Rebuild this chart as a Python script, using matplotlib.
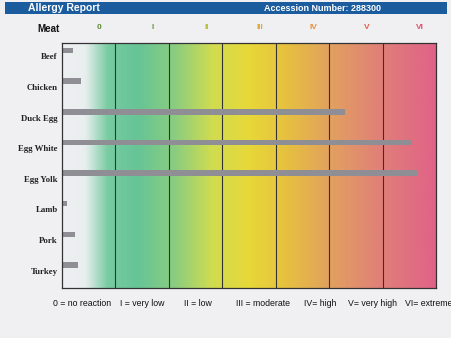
import numpy as np
import matplotlib.pyplot as plt
from matplotlib.colors import LinearSegmentedColormap
from matplotlib.patches import Rectangle

foods = ["Beef", "Chicken", "Duck Egg", "Egg White", "Egg Yolk", "Lamb", "Pork", "Turkey"]
scores = [0.2, 0.35, 5.3, 6.55, 6.65, 0.1, 0.25, 0.3]
classes = ["0", "I", "II", "III", "IV", "V", "VI"]
class_colors = ["#5c8a3a", "#6a9a40", "#b8c040", "#e0a830", "#e89040", "#e06048", "#e05070"]
legend_items = ["0 = no reaction", "I = very low", "II = low", "III = moderate",
                "IV= high", "V= very high", "VI= extreme"]
legend_x = [0.117, 0.265, 0.408, 0.522, 0.672, 0.77, 0.895]

fig = plt.figure(figsize=(4.52, 3.38), dpi=100)
fig.patch.set_facecolor("#f0f0f2")

# header bar
fig.patches.append(Rectangle((0.01, 0.958), 0.98, 0.036, transform=fig.transFigure,
                             facecolor="#1b5c9e", edgecolor="none"))
fig.text(0.062, 0.976, "Allergy Report", color="white", fontsize=7.5, fontweight="bold",
         va="center", family="Liberation Sans")
fig.text(0.585, 0.976, "Accession Number: 288300", color="white", fontsize=6.5,
         fontweight="bold", va="center", family="Liberation Sans")

ax = fig.add_axes([0.137, 0.148, 0.828, 0.725])

# background gradient
cmap = LinearSegmentedColormap.from_list("allergy", [
    (0.0, "#eef0f2"), (0.06, "#e8eeee"), (0.12, "#78cca2"), (0.2, "#66c496"),
    (0.3, "#8acd80"), (0.4, "#d0dc50"), (0.5, "#e8d838"), (0.6, "#e6c040"),
    (0.72, "#e2a060"), (0.85, "#e08078"), (1.0, "#e06288")])
grad = np.linspace(0, 1, 400).reshape(1, -1)
ax.imshow(grad, extent=[0, 7, 7.75, -0.25], aspect="auto", cmap=cmap, zorder=0)

for x in range(1, 7):
    ax.axvline(x, color="#333333", lw=0.8, zorder=1)

y = np.arange(len(foods))
ax.barh(y, scores, height=0.18, color="#8e8e94", zorder=2)

ax.set_xlim(0, 7)
ax.set_ylim(7.75, -0.25)
ax.set_xticks([])
ax.set_yticks([])
for s in ax.spines.values():
    s.set_color("#333333")
    s.set_linewidth(0.9)

for i, name in enumerate(foods):
    ax.text(-0.08, i + 0.22, name, ha="right", va="center", fontsize=6.3,
            fontweight="bold", family="Liberation Serif", color="#222222")

ax.text(-0.05, -0.72, "Meat", ha="right", va="center", fontsize=7,
        fontweight="bold", family="Liberation Sans", color="#111111")
for i, (c, col) in enumerate(zip(classes, class_colors)):
    ax.text(i + 0.7, -0.75, c, ha="center", va="center", fontsize=6,
            fontweight="bold", color=col, family="Liberation Sans")

for txt, lx in zip(legend_items, legend_x):
    fig.text(lx, 0.103, txt, fontsize=6.3, family="Liberation Sans",
             color="#111111", va="center")

fig.savefig("out.png", dpi=100, facecolor=fig.get_facecolor())
